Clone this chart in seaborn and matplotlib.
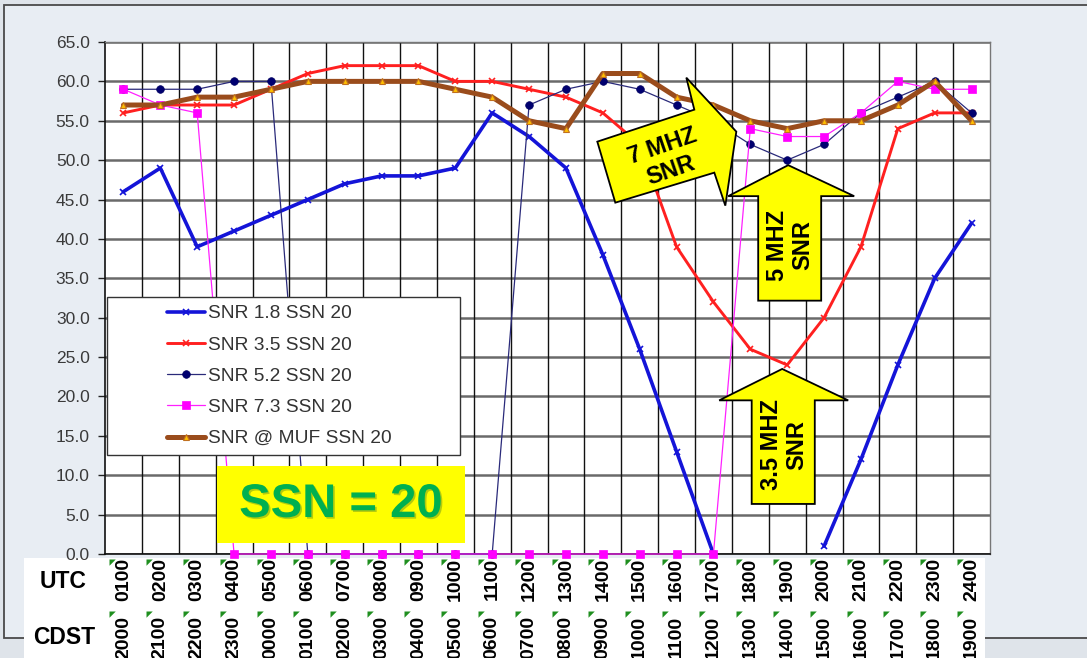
import numpy as np
import pandas as pd
import matplotlib
matplotlib.use("Agg")
import matplotlib.pyplot as plt
import matplotlib.transforms as mtransforms
from matplotlib.patches import Rectangle, Polygon
from matplotlib.lines import Line2D
from matplotlib.path import Path
import matplotlib.patheffects as pe
import seaborn as sns

# ---- data -------------------------------------------------------------
utc_hours = ["0100", "0200", "0300", "0400", "0500", "0600", "0700", "0800",
             "0900", "1000", "1100", "1200", "1300", "1400", "1500", "1600",
             "1700", "1800", "1900", "2000", "2100", "2200", "2300", "2400"]
cdst_hours = ["2000", "2100", "2200", "2300", "0000", "0100", "0200", "0300",
              "0400", "0500", "0600", "0700", "0800", "0900", "1000", "1100",
              "1200", "1300", "1400", "1500", "1600", "1700", "1800", "1900"]

nan = np.nan
snr_1_8 = [46, 49, 39, 41, 43, 45, 47, 48, 48, 49, 56, 53,
           49, 38, 26, 13, 0, nan, nan, 1, 12, 24, 35, 42]
snr_3_5 = [56, 57, 57, 57, 59, 61, 62, 62, 62, 60, 60, 59,
           58, 56, 52, 39, 32, 26, 24, 30, 39, 54, 56, 56]
snr_5_2 = [59, 59, 59, 60, 60, 0, 0, 0, 0, 0, 0, 57,
           59, 60, 59, 57, 55, 52, 50, 52, 56, 58, 60, 56]
snr_7_3 = [59, 57, 56, 0, 0, 0, 0, 0, 0, 0, 0, 0,
           0, 0, 0, 0, 0, 54, 53, 53, 56, 60, 59, 59]
snr_muf = [57, 57, 58, 58, 59, 60, 60, 60, 60, 59, 58, 55,
           54, 61, 61, 58, 57, 55, 54, 55, 55, 57, 60, 55]

series_labels = ["SNR 1.8 SSN 20", "SNR 3.5 SSN 20", "SNR 5.2 SSN 20",
                 "SNR 7.3 SSN 20", "SNR @ MUF SSN 20"]

# ---- styling ----------------------------------------------------------
sns.set_theme(style="white")
plt.rcParams["font.family"] = ["Liberation Sans", "DejaVu Sans"]

styles = [
    dict(color="#1414d8", linewidth=2.6, marker="x", markersize=5,
         markeredgewidth=1.2, markeredgecolor="#1414d8", markerfacecolor="#1414d8"),
    dict(color="#ff2020", linewidth=2.1, marker="x", markersize=5,
         markeredgewidth=1.2, markeredgecolor="#ff2020", markerfacecolor="#ff2020"),
    dict(color="#2a2a7a", linewidth=0.9, marker="o", markersize=5.5,
         markeredgewidth=0.5, markeredgecolor="#000060", markerfacecolor="#000070"),
    dict(color="#ff20ff", linewidth=0.9, marker="s", markersize=6.2,
         markeredgewidth=0.5, markeredgecolor="#ff00ff", markerfacecolor="#ff00ff"),
    dict(color="#9a4c1c", linewidth=3.6, marker="^", markersize=5,
         markeredgewidth=0.8, markeredgecolor="#c07020", markerfacecolor="#ffc000"),
]

W, H = 1087, 658
fig = plt.figure(figsize=(W / 100, H / 100), dpi=100)
fig.patch.set_facecolor("#dfe4ea")

# slide panel and the white strip that carries the hour labels
fig.add_artist(Rectangle((4 / W, 1 - 638 / H), 1.02, (638 - 5) / H,
                         transform=fig.transFigure, facecolor="#e8edf3",
                         edgecolor="#4a4a4a", linewidth=1.3, zorder=-3))
fig.add_artist(Rectangle((24 / W, 0), (985 - 24) / W, (658 - 558) / H,
                         transform=fig.transFigure, facecolor="white",
                         edgecolor="none", zorder=-2))

ax = fig.add_axes([105 / W, 1 - 554 / H, 885 / W, 512 / H])
ax.set_facecolor("white")

positions = np.arange(len(utc_hours))

# ---- series -----------------------------------------------------------
all_series = [snr_1_8, snr_3_5, snr_5_2, snr_7_3, snr_muf]
for values, style in zip(all_series, styles):
    df = pd.DataFrame({"pos": positions, "snr": values})
    df["run"] = df["snr"].isna().cumsum()
    df = df.dropna()
    sns.lineplot(data=df, x="pos", y="snr", units="run", estimator=None,
                 ax=ax, clip_on=False, zorder=3, **style)

# ---- axes, grid -------------------------------------------------------
ax.set_xlim(-0.5, len(utc_hours) - 0.5)
ax.set_ylim(0, 65)
yticks = np.arange(0, 66, 5)
ax.set_yticks(yticks)
ax.set_yticklabels([f"{v:.1f}" for v in yticks], fontsize=12.5, color="#3a3a3a")
ax.tick_params(axis="y", direction="out", length=5, width=1.0, color="#222",
               pad=6, left=True)
ax.set_axisbelow(True)
ax.yaxis.grid(True, color="#6a6a6a", linewidth=1.8)
ax.xaxis.grid(False)
ax.vlines(np.arange(0.5, len(utc_hours) - 0.5, 1), 0, 65,
          color="#111111", linewidth=1.0, zorder=1)

ax.set_xticks(positions)
ax.set_xticklabels(utc_hours, rotation=90, fontsize=14, fontweight="bold",
                   color="black")
ax.tick_params(axis="x", length=0, pad=3)
ax.set_xlabel("")
ax.set_ylabel("")
for side in ["left", "bottom"]:
    ax.spines[side].set_color("#111")
    ax.spines[side].set_linewidth(1.2)
for side in ["top", "right"]:
    ax.spines[side].set_color("#777")
    ax.spines[side].set_linewidth(1.0)

# second row of hour labels (local daylight time)
xform = ax.get_xaxis_transform()
for p, lab in zip(positions, cdst_hours):
    ax.text(p, (554 - 616) / 512, lab, rotation=90, ha="center", va="top",
            fontsize=14, fontweight="bold", color="black",
            transform=xform, clip_on=False)

# small green corner flags on each label cell
flag = Path([(0, 0), (1, 0), (0, -1), (0, 0)],
            [Path.MOVETO, Path.LINETO, Path.LINETO, Path.CLOSEPOLY])
flag_shift = mtransforms.ScaledTranslation(4 / 100, 0, fig.dpi_scale_trans)
for y_px in (559, 611):
    ax.plot(positions - 0.5, np.full(len(positions), (554 - y_px) / 512),
            linestyle="none", marker=flag, markersize=9, color="#1f8f1f",
            markeredgewidth=0, transform=xform + flag_shift, clip_on=False)

fig.text(63 / W, 1 - 581 / H, "UTC", ha="center", va="center",
         fontsize=16.5, fontweight="bold", color="black")
fig.text(64 / W, 1 - 638 / H, "CDST", ha="center", va="center",
         fontsize=16.5, fontweight="bold", color="black")

# ---- legend -----------------------------------------------------------
ax.add_patch(Rectangle((2 / 885, (554 - 455) / 512), 353 / 885, 158 / 512,
                       transform=ax.transAxes, facecolor="white",
                       edgecolor="#333", linewidth=1.0, zorder=5))
handles = [Line2D([], [], **s) for s in styles]
leg = ax.legend(handles, series_labels, loc="upper left",
                bbox_to_anchor=((167 - 105) / 885, (554 - 305) / 512),
                frameon=False, fontsize=13.8, handlelength=2.0,
                handletextpad=0.12, labelspacing=0.72, borderpad=0,
                borderaxespad=0, numpoints=1, labelcolor="#333")
leg.set_zorder(6)

# ---- "SSN = 20" banner --------------------------------------------------
ax.add_patch(Rectangle(((217 - 105) / 885, (554 - 543) / 512), 248 / 885, 77 / 512,
                       transform=ax.transAxes, facecolor="#ffff00",
                       edgecolor="none", zorder=7))
ax.text((341 - 105) / 885, (554 - 505) / 512, "SSN = 20", transform=ax.transAxes,
        ha="center", va="center", fontsize=34, fontweight="bold",
        color="#00b050", zorder=8,
        path_effects=[pe.withSimplePatchShadow(offset=(1.2, -1.2),
                                               shadow_rgbFace="#2a6a2a", alpha=0.35)])


# ---- callout arrows (shapes in pixel offsets from the point they mark) --
def callout(series, hour_idx, tip_offset, verts, text, text_offset, rotation):
    anchor = mtransforms.ScaledTranslation(hour_idx, series[hour_idx], ax.transData)
    tx, ty = tip_offset
    pts = [(vx + tx, vy + ty) for vx, vy in verts]
    ax.add_patch(Polygon(pts, closed=True, facecolor="#ffff00",
                         edgecolor="black", linewidth=1.3,
                         transform=anchor, clip_on=False, zorder=9))
    ax.text(text_offset[0] + tx, text_offset[1] + ty, text, transform=anchor,
            ha="center", va="center", rotation=rotation, rotation_mode="anchor",
            fontsize=17, fontweight="bold", color="black",
            linespacing=1.15, zorder=10, clip_on=False)


up_arrow_5 = [(0, 0), (66, -31), (33, -31), (33, -135.5),
              (-30, -135.5), (-30, -31), (-60, -31)]
up_arrow_35 = [(0, 0), (66, -31.4), (32.6, -31.4), (32.6, -135),
               (-30.5, -135), (-30.5, -31.4), (-63, -31.4)]
right_arrow_7 = [(0, 0), (-50, 54), (-42, 22), (-139, -10),
                 (-121, -71), (-22, -41), (-11, -74)]

callout(snr_7_3, 17, (-14, -3), right_arrow_7, "7 MHZ\nSNR", (-70, -27), 19)
callout(snr_5_2, 18, (1, -5), up_arrow_5, "5 MHZ\nSNR", (2, -80), 90)
callout(snr_3_5, 18, (-5, -4), up_arrow_35, "3.5 MHZ\nSNR", (2, -76), 90)

fig.savefig("out.png", dpi=100, facecolor=fig.get_facecolor())
